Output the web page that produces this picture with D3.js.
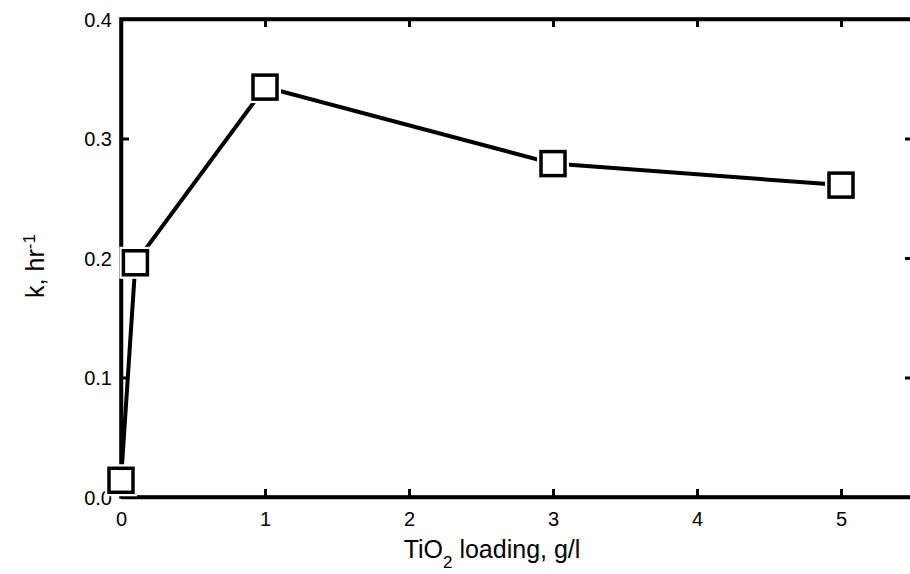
<!DOCTYPE html>
<html>
<head>
<meta charset="utf-8">
<script src="https://cdn.jsdelivr.net/npm/d3@7"></script>
<style>
  body { margin: 0; background: #fff; }
  text { font-family: "Liberation Sans", Arial, sans-serif; fill: #000; }
</style>
</head>
<body>
<svg id="chart"></svg>
<script>
// Define the dimensions and margins for the SVG
const width = 910, height = 574;
const margin = {top: 19, bottom: 77, left: 121, right: -3};

// data
const loading = [0, 0.1, 1, 3, 5];
const rate = [0.014, 0.196, 0.343, 0.279, 0.261];
const xTicks = [0, 1, 2, 3, 4, 5];
const yTicks = [0, 0.1, 0.2, 0.3, 0.4];
const yTickLabels = ["0.0", "0.1", "0.2", "0.3", "0.4"];

const svg = d3.select("#chart")
    .attr("width", width)
    .attr("height", height)
    .style("background", "#ffffff");

const xScale = d3.scaleLinear()
    .domain([0, 5.5])
    .range([margin.left, width - margin.right]);

const yScale = d3.scaleLinear()
    .domain([0, 0.4])
    .range([height - margin.bottom, margin.top]);

// axes, ticks pointing inward
const xAxisBottom = svg.append("g")
    .attr("transform", `translate(0,${height - margin.bottom})`)
    .call(d3.axisBottom(xScale).tickValues(xTicks).tickSizeInner(-8).tickSizeOuter(0)
        .tickFormat(d3.format("d")));

const xAxisTop = svg.append("g")
    .attr("transform", `translate(0,${margin.top})`)
    .call(d3.axisTop(xScale).tickValues(xTicks).tickSizeInner(-8).tickSizeOuter(0).tickFormat(""));

const yAxisLeft = svg.append("g")
    .attr("transform", `translate(${margin.left},0)`)
    .call(d3.axisLeft(yScale).tickValues(yTicks).tickSizeInner(-8).tickSizeOuter(0)
        .tickFormat((d, i) => yTickLabels[i]));

const yAxisRight = svg.append("g")
    .attr("transform", `translate(${width - margin.right},0)`)
    .call(d3.axisRight(yScale).tickValues(yTicks).tickSizeInner(-8).tickSizeOuter(0).tickFormat(""));

[xAxisBottom, xAxisTop, yAxisLeft, yAxisRight].forEach(g => {
    g.attr("font-size", 20).attr("font-family", "'Liberation Sans', Arial, sans-serif");
    g.select(".domain").attr("stroke", "#000").attr("stroke-width", 3.5);
    g.selectAll(".tick line").attr("stroke", "#000").attr("stroke-width", 3);
    g.selectAll(".tick text").attr("fill", "#000");
});
yAxisLeft.selectAll(".tick text").attr("x", -9).attr("dy", "0.35em");
xAxisBottom.selectAll(".tick text").attr("y", 15);

// full frame so the corners look closed
svg.append("path")
    .attr("d", `M${margin.left},${margin.top}H${width - margin.right}V${height - margin.bottom}H${margin.left}Z`)
    .attr("fill", "none")
    .attr("stroke", "#000")
    .attr("stroke-width", 3.5);

// titles
svg.append("text")
    .attr("x", 492)
    .attr("y", 558)
    .attr("text-anchor", "middle")
    .style("font-size", "25px")
    .html('TiO<tspan baseline-shift="sub" font-size="17px">2</tspan> loading, g/l');

svg.append("text")
    .attr("transform", `translate(44,266) rotate(-90)`)
    .attr("text-anchor", "middle")
    .style("font-size", "25px")
    .html('k, hr<tspan baseline-shift="super" font-size="17px">-1</tspan>');

const pts = loading.map((x, i) => ({x: x, y: rate[i]}));

const line = d3.line()
    .x(d => xScale(d.x))
    .y(d => yScale(d.y));

svg.append("path")
    .datum(pts)
    .attr("fill", "none")
    .attr("stroke", "#000")
    .attr("stroke-width", 4)
    .attr("d", line);

// white halo so the line stops short of each marker
const s = 24;
svg.selectAll(".halo")
    .data(pts)
    .join("rect")
    .attr("class", "halo")
    .attr("x", d => xScale(d.x) - s / 2 - 4)
    .attr("y", d => yScale(d.y) - s / 2 - 4)
    .attr("width", s + 8)
    .attr("height", s + 8)
    .attr("fill", "#fff");

svg.selectAll(".marker")
    .data(pts)
    .join("rect")
    .attr("class", "marker")
    .attr("x", d => xScale(d.x) - s / 2)
    .attr("y", d => yScale(d.y) - s / 2)
    .attr("width", s)
    .attr("height", s)
    .attr("fill", "#fff")
    .attr("stroke", "#000")
    .attr("stroke-width", 3.5);
</script>
</body>
</html>
